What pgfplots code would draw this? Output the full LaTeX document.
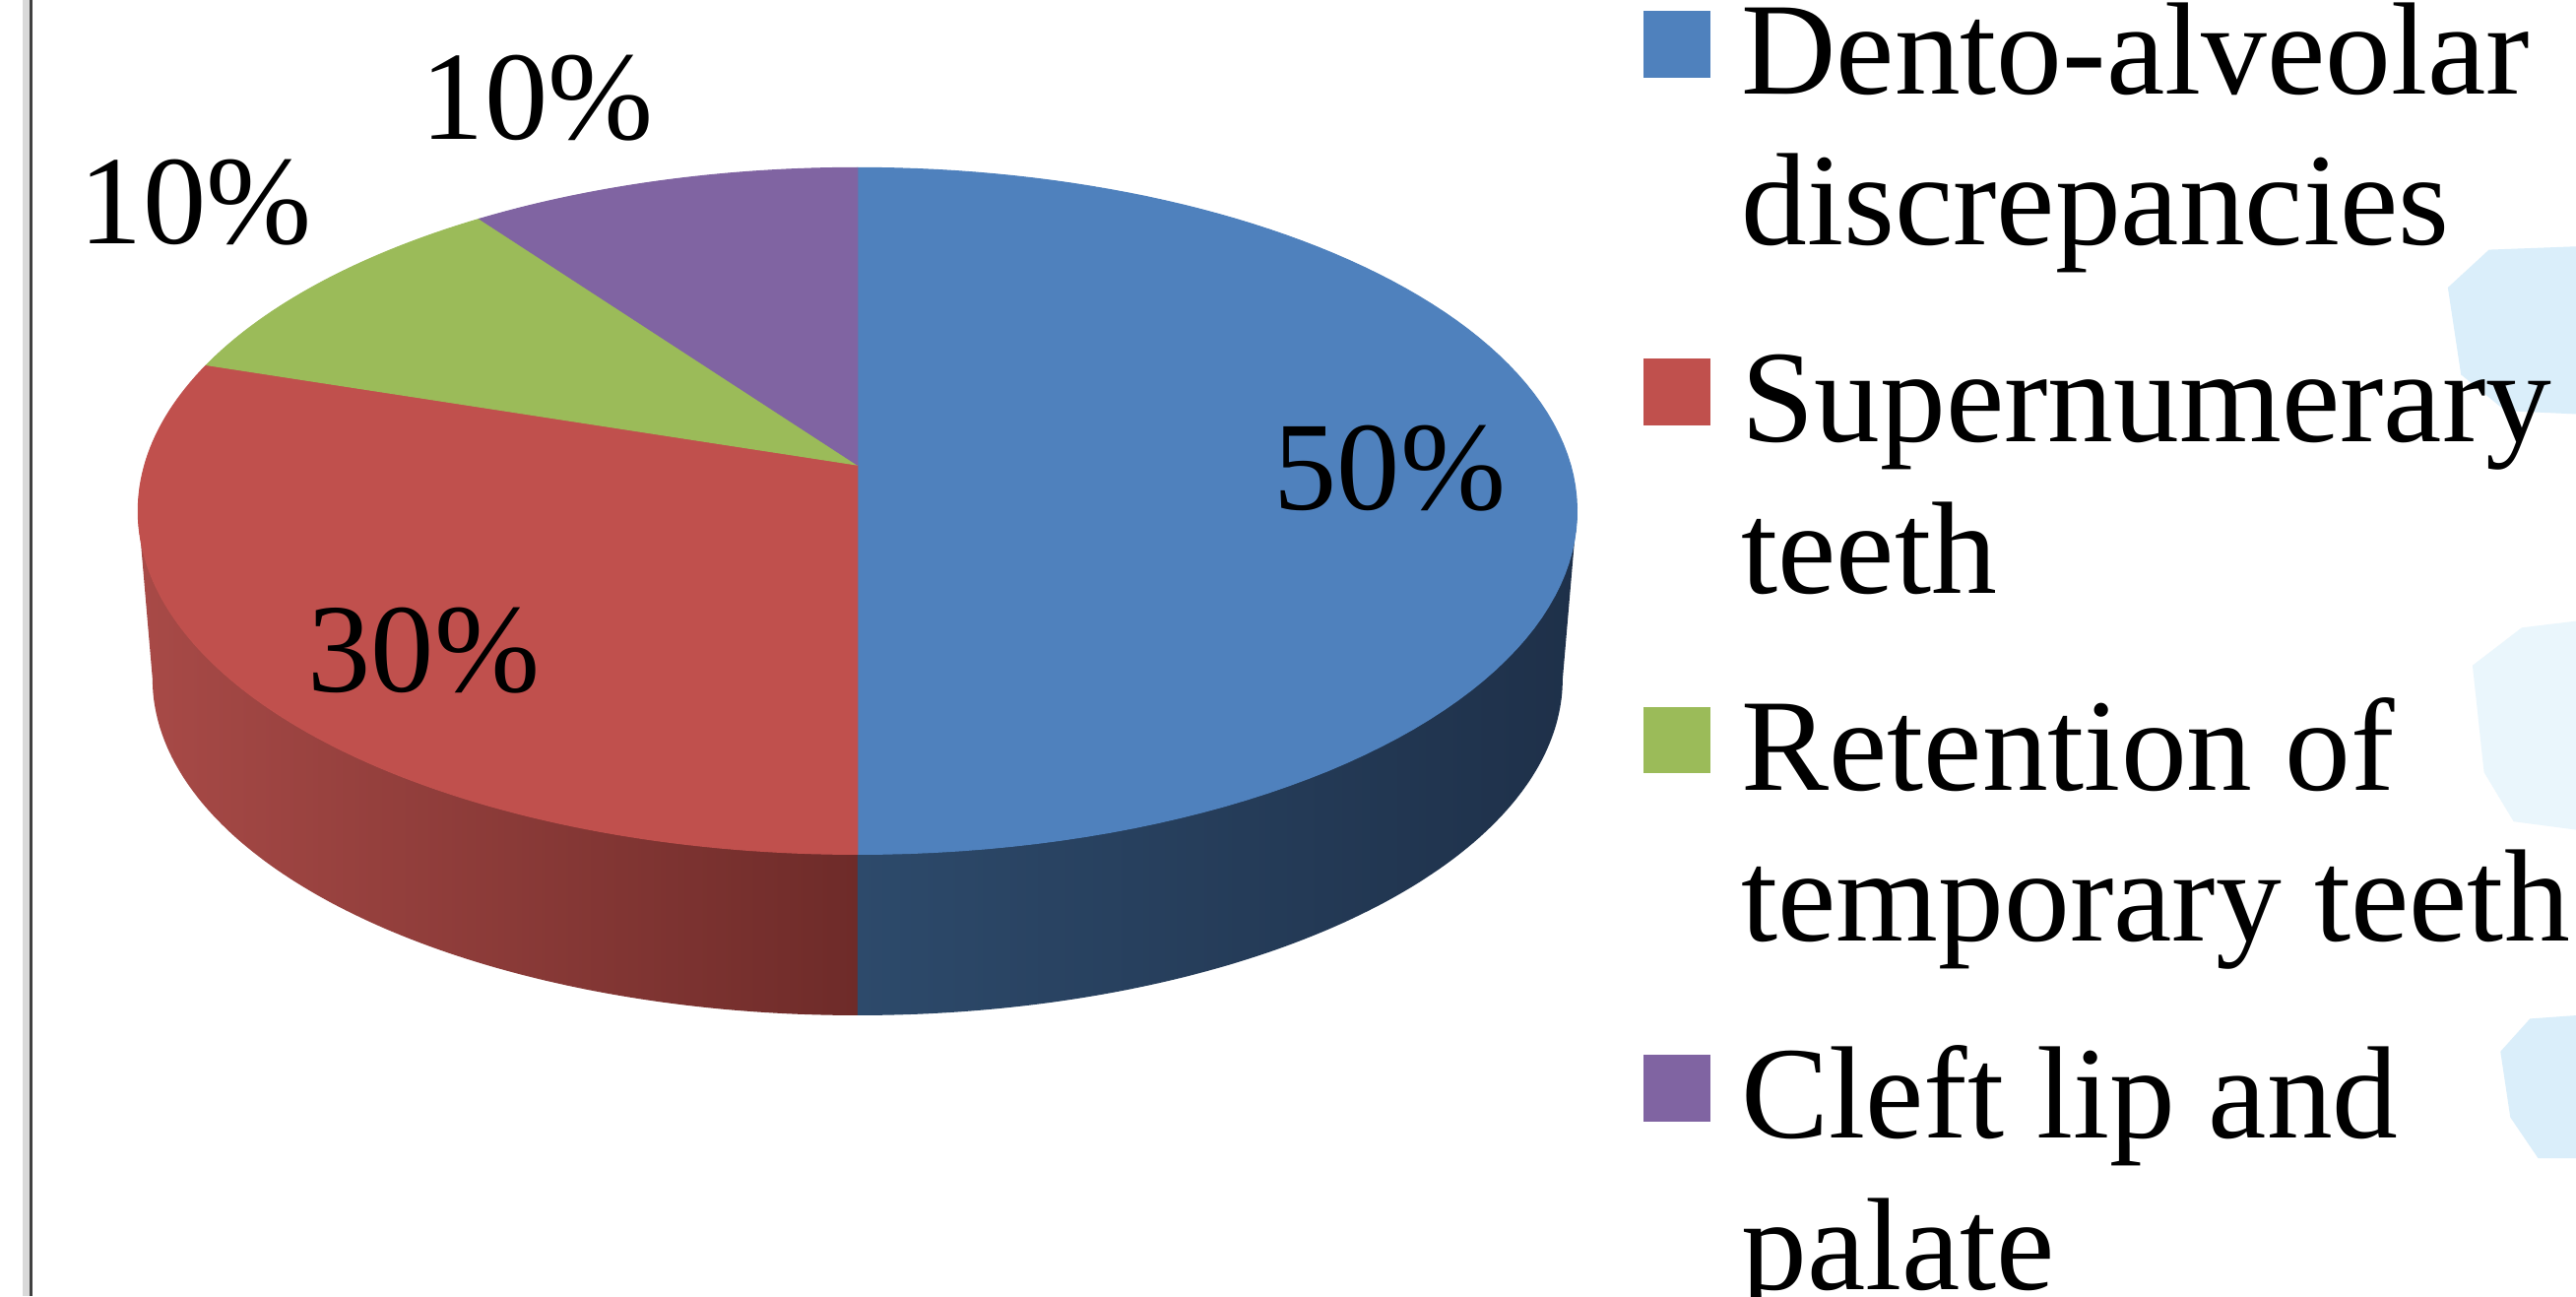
\documentclass[border=0pt]{standalone}
\usepackage{fontspec}
\setmainfont{Liberation Serif}
\usepackage{pgfplots}
\pgfplotsset{compat=1.18}
\usepackage{pgfplotstable}

\definecolor{cBlue}{HTML}{4F81BD}
\definecolor{cRed}{HTML}{C0504D}
\definecolor{cGreen}{HTML}{9BBB59}
\definecolor{cPurple}{HTML}{8064A2}
\definecolor{cRedSideL}{HTML}{A84A47}
\definecolor{cRedSideD}{HTML}{6E2B29}
\definecolor{cBlueSideL}{HTML}{2D4A6B}
\definecolor{cBlueSideD}{HTML}{1E3049}
\definecolor{cBg}{HTML}{DAEEFA}
\definecolor{cBgL}{HTML}{EAF6FC}

\pgfplotstableread{
cat value
1 50
2 30
3 10
4 10
}\piedata
\pgfplotstablegetelem{0}{value}\of\piedata\let\vA\pgfplotsretval
\pgfplotstablegetelem{1}{value}\of\piedata\let\vB\pgfplotsretval
\pgfplotstablegetelem{2}{value}\of\piedata\let\vC\pgfplotsretval
\pgfplotstablegetelem{3}{value}\of\piedata\let\vD\pgfplotsretval
\pgfmathsetmacro{\aO}{90}
\pgfmathsetmacro{\aA}{\aO-3.6*\vA}
\pgfmathsetmacro{\aB}{\aA-3.6*\vB}
\pgfmathsetmacro{\aC}{\aB-3.6*\vC}
\pgfmathsetmacro{\aD}{\aC-3.6*\vD}

\begin{document}
\begin{tikzpicture}
\begin{axis}[
  width=784pt, height=394.5pt, scale only axis,
  xmin=0, xmax=1568, ymin=0, ymax=789, y dir=reverse,
  hide axis, clip=false,
  /pgf/number format/assume math mode=true,
  declare function={
    tx(\t)=434*cos(\t)/(1+0.134*sin(\t));
    ty(\t)=205.2*sin(\t)/(1+0.134*sin(\t));
    sj(\k)=\k*(\k<100.5)+(201-\k)*(\k>100.5);
    sz(\k)=(\k>100.5);
    sx(\t,\z)=522+(1-0.02*\z)*tx(\t);
    sy(\t,\z)=283-ty(\t)+\z*0.02*(5137+ty(\t));
    rr(\k)=(\k>-0.5)*(\k<100.5);
  },
  legend style={at={(axis cs:1000,-12)}, anchor=north west, draw=none, fill=none,
    font=\fontsize{40}{46}\selectfont, row sep=22pt, inner sep=0pt,
    cells={anchor=north west, align=left, inner sep=0pt},
    /tikz/every odd column/.append style={column sep=7.5pt}},
  legend image code/.code={\fill[#1] (0pt,-29.2pt) rectangle (20pt,-9.2pt);},
]
% background
\addplot[draw=none, fill=white, forget plot] coordinates {(0,0) (1568,0) (1568,789) (0,789)} -- cycle;
% faint background blobs (slide background)
\addplot[draw=none, fill=cBg, forget plot] coordinates {(1490,175) (1515,152) (1568,150) (1568,252) (1525,250) (1498,228)} -- cycle;
\addplot[draw=none, fill=cBgL, forget plot] coordinates {(1505,405) (1535,382) (1568,378) (1568,505) (1530,500) (1512,470)} -- cycle;
\addplot[draw=none, fill=cBg, forget plot] coordinates {(1522,640) (1540,620) (1568,618) (1568,705) (1545,705) (1528,680)} -- cycle;
% left border line
\addplot[forget plot, color=black!15, line width=2pt] coordinates {(16,0) (16,789)};
\addplot[forget plot, color=black!75, line width=0.9pt] coordinates {(19,0) (19,789)};

% visible sides
\addplot[forget plot, draw=none, left color=cRedSideL, right color=cRedSideD, variable=\k, samples at={0,1,...,201}]
  ({sx(\aA+(-172.3-\aA)*sj(\k)/100, sz(\k))}, {sy(\aA+(-172.3-\aA)*sj(\k)/100, sz(\k))});
\addplot[forget plot, draw=none, left color=cBlueSideL, right color=cBlueSideD, variable=\k, samples at={0,1,...,201}]
  ({sx(\aA+(-7.7-\aA)*sj(\k)/100, sz(\k))}, {sy(\aA+(-7.7-\aA)*sj(\k)/100, sz(\k))});

% top face slices
\addplot[draw=cBlue, line width=0.3pt, fill=cBlue, variable=\k, samples at={-1,0,1,...,101}]
  ({522+rr(\k)*tx(\aO+(\aA-\aO)*\k/100)}, {283-rr(\k)*ty(\aO+(\aA-\aO)*\k/100)});
\addlegendentry{\strut Dento-alveolar\\discrepancies\strut}
\addplot[draw=cRed, line width=0.3pt, fill=cRed, variable=\k, samples at={-1,0,1,...,101}]
  ({522+rr(\k)*tx(\aA+(\aB-\aA)*\k/100)}, {283-rr(\k)*ty(\aA+(\aB-\aA)*\k/100)});
\addlegendentry{\strut Supernumerary\\teeth\strut}
\addplot[draw=cGreen, line width=0.3pt, fill=cGreen, variable=\k, samples at={-1,0,1,...,101}]
  ({522+rr(\k)*tx(\aB+(\aC-\aB)*\k/100)}, {283-rr(\k)*ty(\aB+(\aC-\aB)*\k/100)});
\addlegendentry{\strut Retention of\\temporary teeth\strut}
\addplot[draw=cPurple, line width=0.3pt, fill=cPurple, variable=\k, samples at={-1,0,1,...,101}]
  ({522+rr(\k)*tx(\aC+(\aD-\aC)*\k/100)}, {283-rr(\k)*ty(\aC+(\aD-\aC)*\k/100)});
\addlegendentry{\strut Cleft lip and\\palate\strut}

% percentage labels
\addplot[forget plot, only marks, mark=*, mark size=0pt, mark options={draw=none, fill=none},
  point meta=explicit, nodes near coords={\pgfmathprintnumber{\pgfplotspointmeta}\%},
  nodes near coords align=center,
  every node near coord/.append style={font=\fontsize{38.5}{44}\selectfont, inner sep=0pt, text=black}]
  table[meta=v] {
x y v
846 285 50
258 396 30
119 123 10
327 60 10
};
\end{axis}
\pgfresetboundingbox
\path (current axis.south west) rectangle (current axis.north east);
\end{tikzpicture}
\end{document}
